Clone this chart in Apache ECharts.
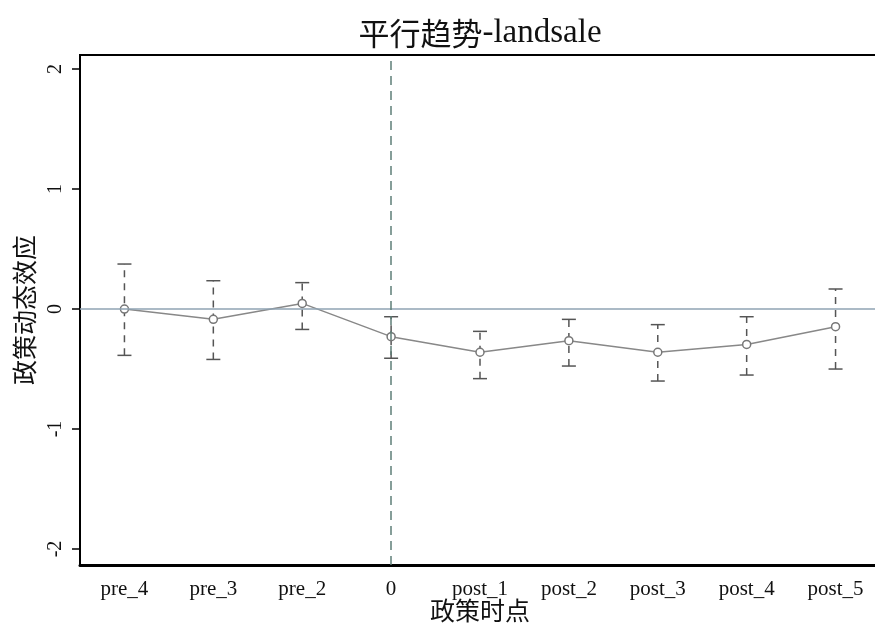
<!DOCTYPE html>
<html>
<head>
<meta charset="utf-8">
<script src="https://cdn.jsdelivr.net/npm/echarts@6/dist/echarts.min.js"></script>
<style>
  html, body { margin: 0; padding: 0; background: #fff; }
  #chart { width: 875px; height: 623px; }
</style>
</head>
<body>
<div id="chart"></div>
<script>
// Event-study estimates with confidence intervals
var periods = ['pre_4', 'pre_3', 'pre_2', '0', 'post_1', 'post_2', 'post_3', 'post_4', 'post_5'];
var coef    = [0.00, -0.086, 0.047, -0.23, -0.36, -0.264, -0.36, -0.295, -0.147];
var ciLow   = [-0.386, -0.42, -0.17, -0.41, -0.58, -0.475, -0.60, -0.55, -0.50];
var ciHigh  = [0.375, 0.236, 0.22, -0.064, -0.186, -0.086, -0.13, -0.064, 0.167];
var yTicks  = [-2, -1, 0, 1, 2];

var serif = '"Liberation Serif", "Times New Roman", "Noto Sans CJK SC", serif';
var cjk = '"Noto Sans CJK SC", "Liberation Serif", serif';

var ciData = periods.map(function (p, i) { return [i, ciLow[i], ciHigh[i]]; });

var chart = echarts.init(document.getElementById('chart'));
chart.setOption({
  backgroundColor: '#fff',
  animation: false,
  title: {
    text: '{c|平行趋势}{l|-landsale}',
    left: 475, top: 12, textAlign: 'center',
    textStyle: {
      fontWeight: 'normal', color: '#111',
      rich: {
        c: { fontFamily: cjk, fontSize: 31, color: '#111' },
        l: { fontFamily: serif, fontSize: 33, color: '#111' }
      }
    }
  },
  grid: {
    left: 80, top: 55, width: 800, height: 510,
    outerBoundsMode: 'none',
    containLabel: false,
    show: true, borderColor: '#000', borderWidth: 2, backgroundColor: '#fff'
  },
  xAxis: {
    type: 'category',
    data: periods,
    boundaryGap: true,
    name: '政策时点',
    nameLocation: 'middle',
    nameGap: 33,
    nameMoveOverlap: false,
    nameTextStyle: { fontFamily: cjk, fontSize: 25, color: '#111' },
    axisLine: { onZero: false, lineStyle: { color: '#000', width: 3 } },
    axisTick: { alignWithLabel: true, length: 8, lineStyle: { color: '#000', width: 1.5 } },
    axisLabel: { fontFamily: serif, fontSize: 21, color: '#111', margin: 14 },
    splitLine: { show: false }
  },
  yAxis: {
    type: 'value',
    min: -2.133, max: 2.117,
    name: '政策动态效应',
    nameLocation: 'middle',
    nameGap: 43,
    nameRotate: 90,
    nameMoveOverlap: false,
    nameTextStyle: { fontFamily: cjk, fontSize: 25, color: '#111' },
    axisLine: { show: true, onZero: false, lineStyle: { color: '#000', width: 2 } },
    axisTick: { show: true, length: 8, customValues: yTicks, lineStyle: { color: '#000', width: 1.5 } },
    axisLabel: { customValues: yTicks, rotate: 90, fontFamily: serif, fontSize: 20, color: '#111', margin: 14 },
    splitLine: { show: false }
  },
  series: [
    {
      type: 'custom',
      name: 'ci',
      data: ciData,
      encode: { x: 0, y: [1, 2] },
      z: 3,
      renderItem: function (params, api) {
        var x = api.value(0);
        var lo = api.coord([x, api.value(1)]);
        var hi = api.coord([x, api.value(2)]);
        var cap = 7;
        var st = { stroke: '#555', lineWidth: 1.5 };
        return {
          type: 'group',
          children: [
            { type: 'line', shape: { x1: lo[0], y1: lo[1], x2: hi[0], y2: hi[1] },
              style: { stroke: '#555', lineWidth: 1.5, lineDash: [7, 6] } },
            { type: 'line', shape: { x1: lo[0] - cap, y1: lo[1], x2: lo[0] + cap, y2: lo[1] }, style: st },
            { type: 'line', shape: { x1: hi[0] - cap, y1: hi[1], x2: hi[0] + cap, y2: hi[1] }, style: st }
          ]
        };
      }
    },
    {
      type: 'line',
      name: 'coef',
      data: coef,
      z: 4,
      symbol: 'circle',
      symbolSize: 8,
      itemStyle: { color: '#fff', borderColor: '#777', borderWidth: 1.5 },
      lineStyle: { color: '#888', width: 1.5 },
      markLine: {
        silent: true,
        symbol: 'none',
        label: { show: false },
        data: [
          { yAxis: 0, lineStyle: { color: '#8fa3b3', width: 1.5, type: 'solid' } },
          { xAxis: 3, lineStyle: { color: '#5f7f78', width: 1.5, type: [9, 6] } }
        ]
      }
    }
  ]
});
</script>
</body>
</html>
